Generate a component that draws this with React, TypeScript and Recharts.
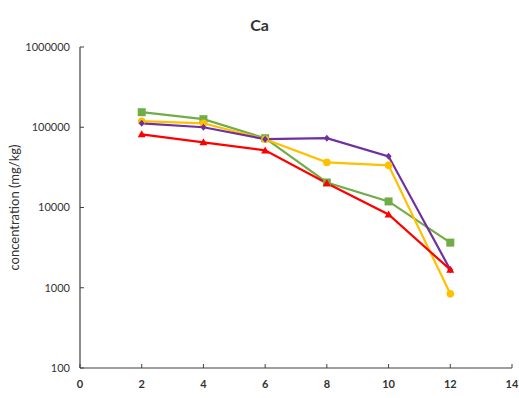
import React from 'react'
import {
  LineChart,
  Line,
  XAxis,
  YAxis,
} from 'recharts'

const depths = [2, 4, 6, 8, 10, 12]
const greenVals = [154000, 126000, 73000, 20500, 11900, 3650]
const yellowVals = [119000, 112000, 71000, 36500, 33500, 840]
const purpleVals = [112000, 100000, 71000, 73000, 43400, 1680]
const redVals = [81700, 64900, 51500, 20000, 8200, 1680]
const xTicks = [0, 2, 4, 6, 8, 10, 12, 14]
const yTicks = [100, 1000, 10000, 100000, 1000000]

const data = depths.map((d, i) => ({
  x: d,
  green: greenVals[i],
  yellow: yellowVals[i],
  purple: purpleVals[i],
  red: redVals[i],
}))

const C = {
  green: '#70AD47',
  yellow: '#FFC000',
  purple: '#7030A0',
  red: '#FF0000',
  axis: '#404040',
  text: '#333',
}

const font = 'Lato, "Open Sans", sans-serif'

const SquareDot = (props: any) => {
  const { cx, cy } = props
  if (cx == null || cy == null) return null
  return <rect x={cx - 4} y={cy - 4} width={8} height={8} fill={C.green} />
}

const CircleDot = (props: any) => {
  const { cx, cy } = props
  if (cx == null || cy == null) return null
  return <circle cx={cx} cy={cy} r={3.8} fill={C.yellow} />
}

const DiamondDot = (props: any) => {
  const { cx, cy } = props
  if (cx == null || cy == null) return null
  return <path d={`M${cx},${cy - 3.5} L${cx + 3},${cy} L${cx},${cy + 3.5} L${cx - 3},${cy} Z`} fill={C.purple} />
}

const TriDot = (props: any) => {
  const { cx, cy } = props
  if (cx == null || cy == null) return null
  return <path d={`M${cx},${cy - 4} L${cx + 4},${cy + 3} L${cx - 4},${cy + 3} Z`} fill={C.red} />
}

export default function App() {
  return (
    <div style={{ position: 'absolute', left: 0, top: 0, width: 519, height: 398, background: '#fff', fontFamily: font }}>
      <div style={{ position: 'absolute', top: 15, width: 519, textAlign: 'center', fontSize: 16, fontWeight: 700, color: C.text }}>
        Ca
      </div>
      <LineChart
        width={519}
        height={398}
        data={data}
        margin={{ top: 47, right: 7, bottom: 5, left: 8 }}
      >
        <XAxis
          dataKey="x"
          type="number"
          domain={[0, 14]}
          ticks={xTicks}
          interval={0}
          height={25}
          tickSize={-4}
          tickMargin={16}
          axisLine={{ stroke: C.axis, strokeWidth: 1.2 }}
          tickLine={{ stroke: C.axis }}
          tick={{ fill: C.text, fontSize: 11, fontWeight: 700, fontFamily: font }}
        />
        <XAxis xAxisId="top" dataKey="x" type="number" domain={[0, 14]} orientation="top" height={0} tick={false} tickLine={false} axisLine={{ stroke: C.axis, strokeWidth: 1.2 }} />
        <YAxis
          scale="log"
          domain={[100, 1000000]}
          ticks={yTicks}
          interval={0}
          allowDataOverflow
          width={72}
          tickSize={-4}
          tickMargin={14}
          axisLine={{ stroke: C.axis, strokeWidth: 1.2 }}
          tickLine={{ stroke: C.axis }}
          tick={{ fill: C.text, fontSize: 11, fontFamily: font }}
          label={{ value: 'concentration (mg/kg)', angle: -90, position: 'insideLeft', offset: 6, style: { textAnchor: 'middle', fill: C.text, fontSize: 13, fontFamily: font } }}
        />
        <YAxis yAxisId="right" orientation="right" width={0} tick={false} tickLine={false} axisLine={{ stroke: C.axis, strokeWidth: 1.2 }} />
        <Line dataKey="green" stroke={C.green} strokeWidth={2.2} dot={<SquareDot />} isAnimationActive={false} />
        <Line dataKey="yellow" stroke={C.yellow} strokeWidth={2.2} dot={<CircleDot />} isAnimationActive={false} />
        <Line dataKey="purple" stroke={C.purple} strokeWidth={2.2} dot={<DiamondDot />} isAnimationActive={false} />
        <Line dataKey="red" stroke={C.red} strokeWidth={2.2} dot={<TriDot />} isAnimationActive={false} />
      </LineChart>
    </div>
  )
}
